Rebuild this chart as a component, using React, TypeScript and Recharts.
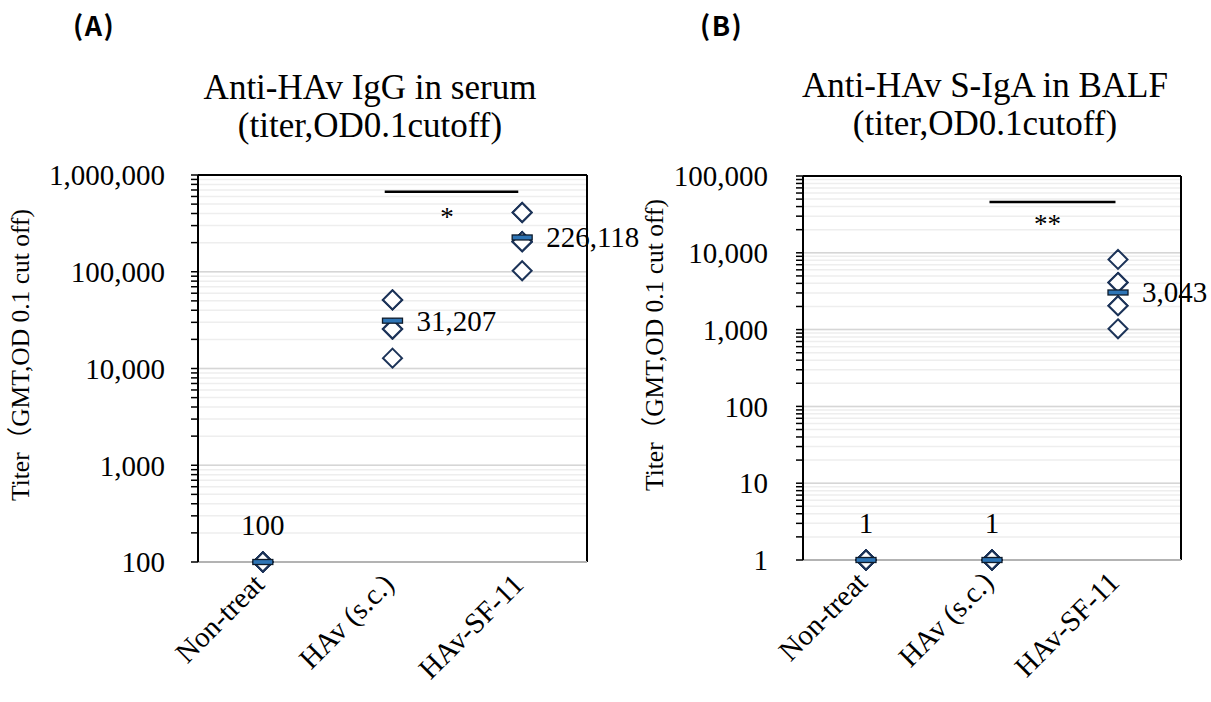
import React from 'react';
import {
  ScatterChart, Scatter, XAxis, YAxis, CartesianGrid, ReferenceLine, ReferenceDot,
} from 'recharts';

// ---------- data ----------
const categories = ['Non-treat', 'HAv (s.c.)', 'HAv-SF-11'];

// (A) Anti-HAv IgG in serum – individual titers per group
const serumNonTreat = [100, 100, 100, 100, 100, 100, 100];
const serumHAvSc = [12800, 25600, 25600, 25600, 51200, 51200, 51200];
const serumSF11 = [102400, 204800, 204800, 204800, 204800, 409600, 409600];
const serumGMT = [100, 31207, 226118];
const serumMajorTicks = [100, 1000, 10000, 100000, 1000000];

// (B) Anti-HAv S-IgA in BALF – individual titers per group
const balfNonTreat = [1, 1, 1, 1, 1, 1, 1];
const balfHAvSc = [1, 1, 1, 1, 1, 1, 1];
const balfSF11 = [1024, 2048, 2048, 4096, 4096, 4096, 8192];
const balfGMT = [1, 1, 3043];
const balfMajorTicks = [1, 10, 100, 1000, 10000, 100000];

// ---------- helpers ----------
const FONT = '"Liberation Serif", "Times New Roman", serif';
const FS = 29;
const toPoints = (groups: number[][]) =>
  groups.flatMap((vals, i) => vals.map((v) => ({ x: i + 1, y: v })));
const toGmt = (vals: number[]) => vals.map((v, i) => ({ x: i + 1, y: v }));
const withMinor = (majors: number[]) => {
  const out: number[] = [];
  majors.forEach((m, i) => {
    out.push(m);
    if (i < majors.length - 1) for (let k = 2; k <= 9; k++) out.push(m * k);
  });
  return out;
};
const fmt = (v: number) => v.toLocaleString('en-US');

const Diamond = (props: any) => {
  const { cx, cy } = props;
  const r = 9.5;
  return (
    <path
      d={`M${cx},${cy - r} L${cx + r},${cy} L${cx},${cy + r} L${cx - r},${cy} Z`}
      fill="#ffffff"
      stroke="#1C3358"
      strokeWidth={2}
    />
  );
};

const makeGmtShape = (minVal: number) => (props: any) => {
  const { cx, cy, payload } = props;
  const atFloor = payload.y <= minVal;
  return (
    <g>
      <rect x={cx - 10} y={cy - 2.5} width={20} height={5} fill="#2E75B6" stroke="#0E1B2B" strokeWidth={1.3} />
      {atFloor ? (
        <text x={cx} y={cy - 27} textAnchor="middle" fontSize={FS} fontFamily={FONT} fill="#000">
          {fmt(payload.y)}
        </text>
      ) : (
        <text x={cx + 24} y={cy + 10} textAnchor="start" fontSize={FS} fontFamily={FONT} fill="#000">
          {fmt(payload.y)}
        </text>
      )}
    </g>
  );
};

const XTick = (props: any) => {
  const { x, y, payload } = props;
  const ax = x + 3;
  const ay = y + 24;
  return (
    <text
      x={ax}
      y={ay}
      transform={`rotate(-45, ${ax}, ${ay})`}
      textAnchor="end"
      fontSize={FS}
      fontFamily={FONT}
      fill="#000"
    >
      {categories[payload.value - 1]}
    </text>
  );
};

type PanelProps = {
  points: { x: number; y: number }[];
  gmt: { x: number; y: number }[];
  majors: number[];
  width: number;
  margin: any;
  xAxisHeight: number;
  yTickMargin: number;
  sigLine: { x1: number; x2: number; y: number };
  sigMark: { x: number; y: number; text: string };
};

const Panel = ({ points, gmt, majors, width, margin, xAxisHeight, yTickMargin, sigLine, sigMark }: PanelProps) => {
  const all = withMinor(majors);
  const minV = majors[0];
  const maxV = majors[majors.length - 1];
  return (
    <ScatterChart width={width} height={702} margin={margin}>
      <CartesianGrid vertical={false} stroke="#eeeeee" strokeWidth={1.5} />
      {majors.slice(1, -1).map((m) => (
        <ReferenceLine key={m} y={m} stroke="#d6d6d6" strokeWidth={1.5} />
      ))}
      <XAxis
        type="number"
        dataKey="x"
        domain={[0.5, 3.5]}
        ticks={[1, 2, 3]}
        interval={0}
        tickLine={false}
        tickSize={0}
        tickMargin={0}
        height={xAxisHeight}
        axisLine={{ stroke: '#b3b3b3', strokeWidth: 2 }}
        tick={<XTick />}
      />
      <YAxis
        type="number"
        dataKey="y"
        scale="log"
        domain={[minV, maxV]}
        ticks={all}
        interval={0}
        width={198}
        tickSize={7}
        tickMargin={yTickMargin}
        tickLine={{ stroke: '#000', strokeWidth: 1.5 }}
        axisLine={{ stroke: '#000', strokeWidth: 2 }}
        tick={{ fontSize: FS, fontFamily: FONT, fill: '#000' }}
        tickFormatter={(v: number) => (majors.includes(v) ? fmt(v) : '')}
      />
      <ReferenceLine y={maxV} stroke="#000" strokeWidth={2} />
      <ReferenceLine x={3.5} stroke="#000" strokeWidth={2} />
      <ReferenceLine
        segment={[{ x: sigLine.x1, y: sigLine.y }, { x: sigLine.x2, y: sigLine.y }]}
        stroke="#000"
        strokeWidth={2.5}
      />
      <ReferenceDot
        x={sigMark.x}
        y={sigMark.y}
        r={0}
        fill="none"
        stroke="none"
        label={{ value: sigMark.text, position: 'center', fontSize: 27, fontFamily: FONT, fill: '#000' }}
      />
      <Scatter data={points} shape={<Diamond />} isAnimationActive={false} />
      <Scatter data={gmt} shape={makeGmtShape(minV)} isAnimationActive={false} />
    </ScatterChart>
  );
};

const serumPoints = toPoints([serumNonTreat, serumHAvSc, serumSF11]);
const balfPoints = toPoints([balfNonTreat, balfHAvSc, balfSF11]);

const SANS = '"Noto Sans CJK JP", "Noto Sans", sans-serif';
const LABEL_FONT = `${FONT}, "Noto Sans CJK JP"`;

export default function App() {
  return (
    <div style={{ position: 'absolute', left: 0, top: 0, width: 1211, height: 702, background: '#fff', overflow: 'hidden' }}>
      <div style={{ position: 'absolute', left: 0, top: 0 }}>
        <Panel
          points={serumPoints}
          gmt={toGmt(serumGMT)}
          majors={serumMajorTicks}
          width={700}
          margin={{ top: 175, right: 113, bottom: 10, left: 0 }}
          xAxisHeight={130}
          yTickMargin={26}
          sigLine={{ x1: 1.94, x2: 2.97, y: 670000 }}
          sigMark={{ x: 2.42, y: 370000, text: '*' }}
        />
      </div>
      <div style={{ position: 'absolute', left: 605, top: 0 }}>
        <Panel
          points={balfPoints}
          gmt={toGmt(balfGMT)}
          majors={balfMajorTicks}
          width={606}
          margin={{ top: 176, right: 30, bottom: 10, left: 0 }}
          xAxisHeight={132}
          yTickMargin={28}
          sigLine={{ x1: 1.98, x2: 2.98, y: 45800 }}
          sigMark={{ x: 2.44, y: 24000, text: '**' }}
        />
      </div>
      <svg
        width={1211}
        height={702}
        style={{ position: 'absolute', left: 0, top: 0, pointerEvents: 'none' }}
      >
        <text x={73} y={36} fontSize={27} fontWeight="bold" fontFamily={SANS} letterSpacing={1.5}>
          (A)
        </text>
        <text x={700} y={36} fontSize={27} fontWeight="bold" fontFamily={SANS} letterSpacing={1.5}>
          (B)
        </text>
        <text x={370} y={99} textAnchor="middle" fontSize={35} fontFamily={FONT} fill="#000">
          Anti-HAv IgG in serum
        </text>
        <text x={370} y={137} textAnchor="middle" fontSize={35} fontFamily={FONT} fill="#000">
          (titer,OD0.1cutoff)
        </text>
        <text x={985} y={97} textAnchor="middle" fontSize={35} fontFamily={FONT} fill="#000">
          Anti-HAv S-IgA in BALF
        </text>
        <text x={985} y={135} textAnchor="middle" fontSize={35} fontFamily={FONT} fill="#000">
          (titer,OD0.1cutoff)
        </text>
        <text
          x={0}
          y={0}
          transform="translate(29, 355) rotate(-90)"
          textAnchor="middle"
          fontSize={25.5}
          fontFamily={LABEL_FONT}
          fill="#000"
        >
          Titer（GMT,OD 0.1 cut off)
        </text>
        <text
          x={0}
          y={0}
          transform="translate(663, 345) rotate(-90)"
          textAnchor="middle"
          fontSize={25.5}
          fontFamily={LABEL_FONT}
          fill="#000"
        >
          Titer（GMT,OD 0.1 cut off)
        </text>
      </svg>
    </div>
  );
}
